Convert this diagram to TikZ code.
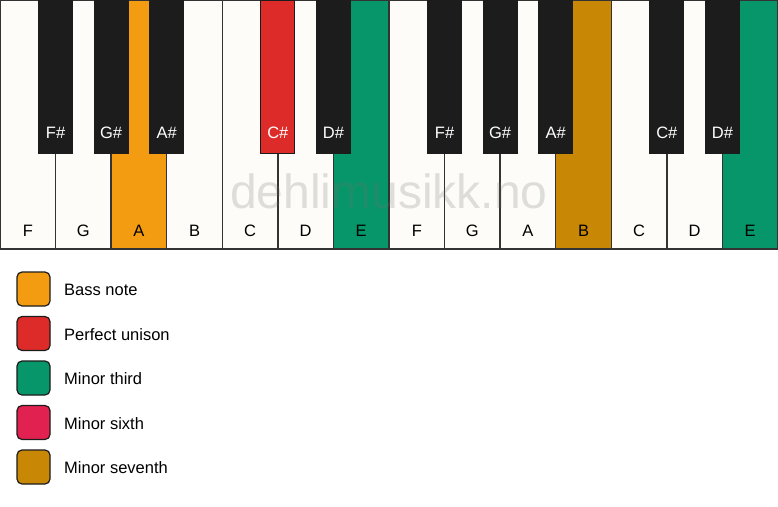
\documentclass[tikz,border=0pt]{standalone}
\usepackage{fontspec}
\setmainfont{Liberation Sans}
\usetikzlibrary{positioning}

\definecolor{keywhite}{HTML}{FDFCF9}
\definecolor{keyblack}{HTML}{1C1C1C}
\definecolor{keyedge}{HTML}{333333}
\definecolor{bassorange}{HTML}{F39C12}
\definecolor{unisonred}{HTML}{DC2B29}
\definecolor{thirdgreen}{HTML}{079669}
\definecolor{sixthred}{HTML}{E1214F}
\definecolor{seventhgold}{HTML}{C88806}
\definecolor{markgray}{HTML}{6F6F6F}

\tikzset{
    whitekey/.style={rectangle, draw=keyedge, line width=1.5pt, fill=keywhite, inner sep=0pt, minimum width=55.57pt, minimum height=249pt},
    blackkey/.style={rectangle, draw=keyblack, line width=0.8pt, fill=keyblack, inner sep=0pt, minimum width=34pt, minimum height=153pt},
    whitename/.style={font=\fontsize{16.5}{19}\selectfont, text=black, inner sep=0pt},
    blackname/.style={font=\fontsize{16.5}{19}\selectfont, text=white, inner sep=0pt},
    swatch/.style={rectangle, rounded corners=5pt, draw=keyblack, line width=1.2pt, inner sep=0pt, minimum width=33pt, minimum height=34pt},
    legendtext/.style={font=\fontsize{16.5}{19}\selectfont, anchor=west, inner sep=0pt}
}

\begin{document}
\begin{tikzpicture}[x=1pt, y=-1pt]
    \useasboundingbox[fill=white] (0, 0) rectangle (778, 506);

    % white keys
    \node[whitekey] (wF1) at (27.79, 124.5) {};
    \node[whitekey] (wG1) at (83.36, 124.5) {};
    \node[whitekey, fill=bassorange] (wA1) at (138.93, 124.5) {};
    \node[whitekey] (wB1) at (194.50, 124.5) {};
    \node[whitekey] (wC1) at (250.07, 124.5) {};
    \node[whitekey] (wD1) at (305.64, 124.5) {};
    \node[whitekey, fill=thirdgreen] (wE1) at (361.21, 124.5) {};
    \node[whitekey] (wF2) at (416.79, 124.5) {};
    \node[whitekey] (wG2) at (472.36, 124.5) {};
    \node[whitekey] (wA2) at (527.93, 124.5) {};
    \node[whitekey, fill=seventhgold] (wB2) at (583.50, 124.5) {};
    \node[whitekey] (wC2) at (639.07, 124.5) {};
    \node[whitekey] (wD2) at (694.64, 124.5) {};
    \node[whitekey, fill=thirdgreen] (wE2) at (750.21, 124.5) {};

    % watermark
    \node[font=\fontsize{48}{50}\selectfont, text=markgray, text opacity=0.22, anchor=base, inner sep=0pt] (mark) at (389, 208) {dehlimusikk.no};

    % white key names
    \node[whitename] (nF1) at (27.79, 231) {F};
    \node[whitename] (nG1) at (83.36, 231) {G};
    \node[whitename] (nA1) at (138.93, 231) {A};
    \node[whitename] (nB1) at (194.50, 231) {B};
    \node[whitename] (nC1) at (250.07, 231) {C};
    \node[whitename] (nD1) at (305.64, 231) {D};
    \node[whitename] (nE1) at (361.21, 231) {E};
    \node[whitename] (nF2) at (416.79, 231) {F};
    \node[whitename] (nG2) at (472.36, 231) {G};
    \node[whitename] (nA2) at (527.93, 231) {A};
    \node[whitename] (nB2) at (583.50, 231) {B};
    \node[whitename] (nC2) at (639.07, 231) {C};
    \node[whitename] (nD2) at (694.64, 231) {D};
    \node[whitename] (nE2) at (750.21, 231) {E};

    % black keys
    \node[blackkey] (bFs1) at (55.57, 76.5) {};
    \node[blackkey] (bGs1) at (111.14, 76.5) {};
    \node[blackkey] (bAs1) at (166.71, 76.5) {};
    \node[blackkey, fill=unisonred] (bCs1) at (277.86, 76.5) {};
    \node[blackkey] (bDs1) at (333.43, 76.5) {};
    \node[blackkey] (bFs2) at (444.57, 76.5) {};
    \node[blackkey] (bGs2) at (500.14, 76.5) {};
    \node[blackkey] (bAs2) at (555.71, 76.5) {};
    \node[blackkey] (bCs2) at (666.86, 76.5) {};
    \node[blackkey] (bDs2) at (722.43, 76.5) {};

    % black key names
    \node[blackname] (nFs1) at (55.57, 133) {F\#};
    \node[blackname] (nGs1) at (111.14, 133) {G\#};
    \node[blackname] (nAs1) at (166.71, 133) {A\#};
    \node[blackname] (nCs1) at (277.86, 133) {C\#};
    \node[blackname] (nDs1) at (333.43, 133) {D\#};
    \node[blackname] (nFs2) at (444.57, 133) {F\#};
    \node[blackname] (nGs2) at (500.14, 133) {G\#};
    \node[blackname] (nAs2) at (555.71, 133) {A\#};
    \node[blackname] (nCs2) at (666.86, 133) {C\#};
    \node[blackname] (nDs2) at (722.43, 133) {D\#};

    % legend
    \node[swatch, fill=bassorange] (sBass) at (33.5, 289) {};
    \node[swatch, fill=unisonred] (sUnison) at (33.5, 333.5) {};
    \node[swatch, fill=thirdgreen] (sThird) at (33.5, 378) {};
    \node[swatch, fill=sixthred] (sSixth) at (33.5, 422.5) {};
    \node[swatch, fill=seventhgold] (sSeventh) at (33.5, 467) {};
    \node[legendtext] (tBass) at (64, 290) {Bass note};
    \node[legendtext] (tUnison) at (64, 334.5) {Perfect unison};
    \node[legendtext] (tThird) at (64, 379) {Minor third};
    \node[legendtext] (tSixth) at (64, 423.5) {Minor sixth};
    \node[legendtext] (tSeventh) at (64, 468) {Minor seventh};
\end{tikzpicture}
\end{document}
